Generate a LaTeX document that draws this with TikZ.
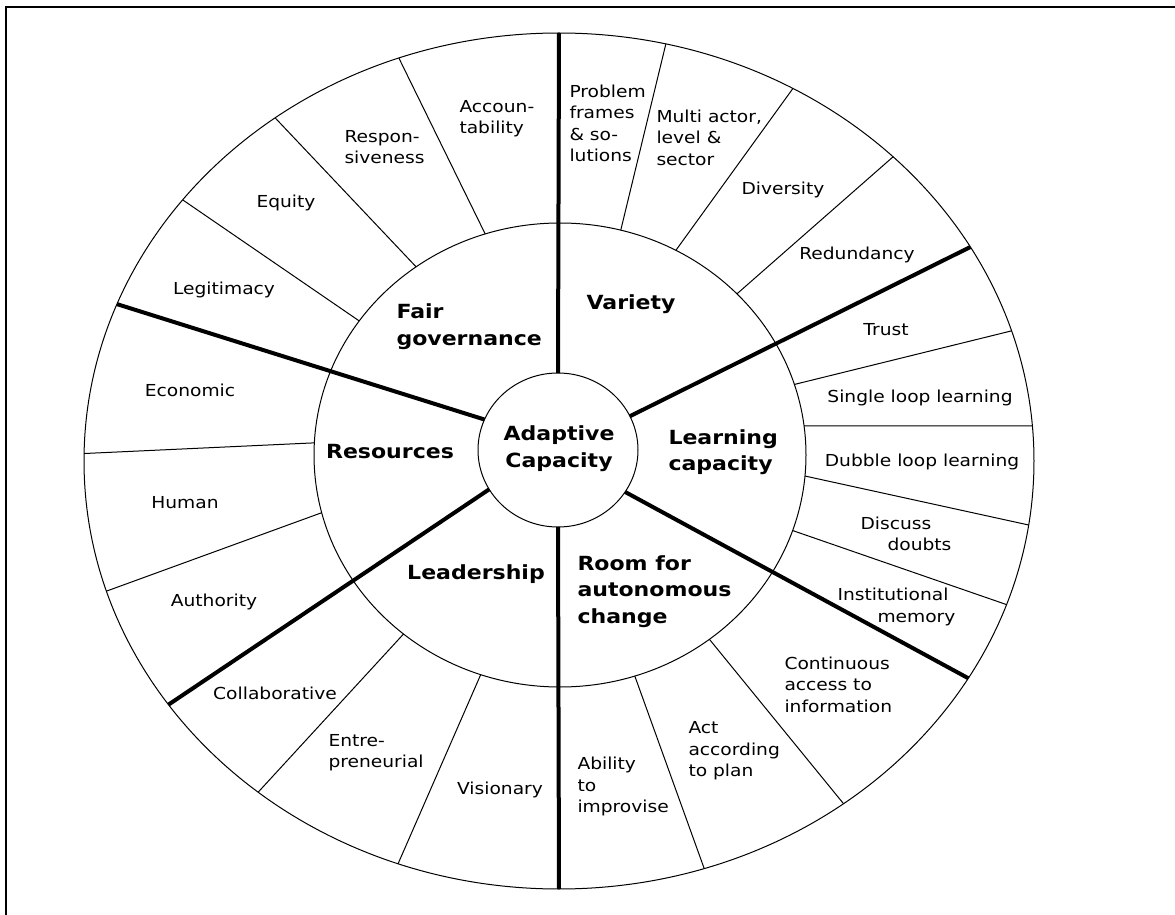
\documentclass[tikz,border=0pt]{standalone}
\usepackage{fontspec}
\setmainfont{DejaVu Sans}[FakeStretch=1.13]
\begin{document}
\begin{tikzpicture}[x=0.5pt,y=-0.5pt,line width=0.5pt,
  lbl/.style={font=\fontsize{8.25}{10.75}\selectfont,inner sep=0pt},
  box/.style={lbl,align=left,anchor=west},
  head/.style={font=\fontsize{9.75}{13.3}\selectfont\bfseries,inner sep=0pt},
  spoke/.style={line width=2pt}]
\useasboundingbox (0,0) rectangle (1175,915);
\clip (0,0) rectangle (1175,915);
\draw[line width=1pt] (5.5,7.5) rectangle (1190,930);
\def\rin#1{({558+80*cos(#1)},{450-77*sin(#1)})}
\def\rmid#1{({560+246*cos(#1)},{455-232*sin(#1)})}
\def\rout#1{({559+475*cos(#1)},{461-428*sin(#1)})}
\draw (559,461) ellipse [x radius=475, y radius=428];
\draw (560,455) ellipse [x radius=246, y radius=232];
\draw (558,450) ellipse [x radius=80, y radius=77];
\foreach \a/\b in {107.7/109.7,125.8/126.7,144.7/142.4,75.7/77,61.9/60.5,44/45.3,
  17.7/17.7,7.2/4.7,-5.2/-8.6,-19/-19.6,-72.3/-72.2,-52.6/-53.2,
  251.2/250.2,230.5/230.7,177/179,194.4/197.7}{
  \draw \rmid{\a} -- \rout{\b};
}
\foreach \a/\b in {90/90,26/30,-33/-30.5,-90/-90,210.7/214.7,156.7/158.5}{
  \draw[spoke] \rin{\a} -- \rout{\b};
}
\node[head,align=center] (adaptive) at (559,448.5) {Adaptive\\Capacity};
\node[head,align=left,anchor=west] (fair) at (396,326.5) {Fair\\governance};
\node[head] (variety) at (631,304) {Variety};
\node[head,align=left,anchor=west] (learning) at (668,452) {Learning\\capacity};
\node[head,align=left,anchor=west] (room) at (577,591.5) {Room for\\autonomous\\change};
\node[head] (leadership) at (476,574) {Leadership};
\node[head] (resources) at (390,452) {Resources};
\node[box] (accountability) at (459,118.5) {Accoun-\\tability};
\node[box] (responsiveness) at (344,147) {Respon-\\siveness};
\node[lbl] (equity) at (286,203) {Equity};
\node[lbl] (legitimacy) at (224,290) {Legitimacy};
\node[box] (problem) at (569,123.5) {Problem\\frames\\\& so-\\lutions};
\node[box] (multi) at (656,137.5) {Multi actor,\\level \&\\sector};
\node[lbl] (diversity) at (783,190) {Diversity};
\node[lbl] (redundancy) at (857,255) {Redundancy};
\node[lbl] (trust) at (886,330) {Trust};
\node[lbl] (single) at (920,398) {Single loop learning};
\node[lbl] (dubble) at (922,462) {Dubble loop learning};
\node[box] (doubts) at (860,534) {Discuss\\\hspace*{13.5pt}doubts};
\node[box] (memory) at (837,607) {Institutional\\\hspace*{20pt}memory};
\node[box] (information) at (784,684.5) {Continuous\\access to\\information};
\node[box] (plan) at (688,751) {Act\\according\\to plan};
\node[box] (improvise) at (577,786.5) {Ability\\to\\improvise};
\node[lbl] (visionary) at (500,790) {Visionary};
\node[box] (entrepreneurial) at (328,752.5) {Entre-\\preneurial};
\node[lbl] (collaborative) at (275,693) {Collaborative};
\node[lbl] (authority) at (214,602) {Authority};
\node[lbl] (human) at (185,503) {Human};
\node[lbl] (economic) at (190,390) {Economic};
\end{tikzpicture}
\end{document}
